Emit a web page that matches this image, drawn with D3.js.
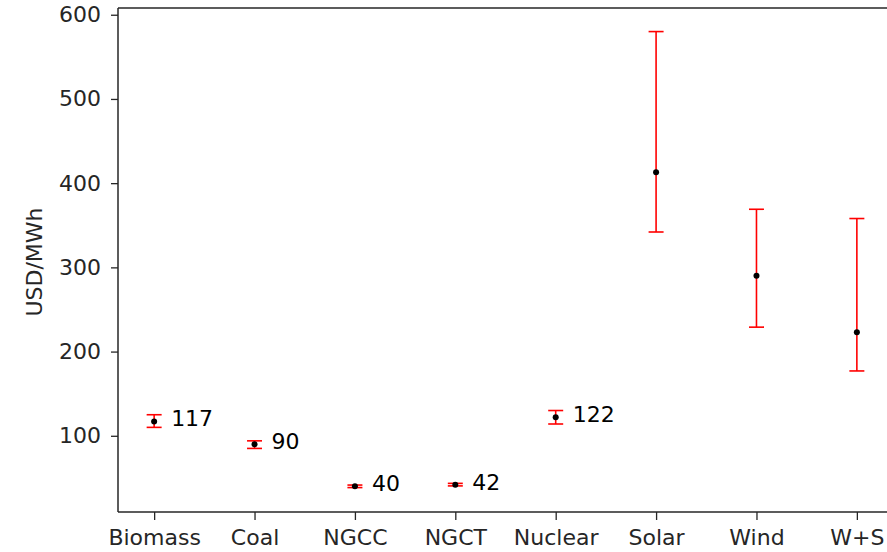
<!DOCTYPE html>
<html>
<head>
<meta charset="utf-8">
<script src="https://cdn.jsdelivr.net/npm/d3@7"></script>
<style>
  html, body { margin: 0; padding: 0; background: #fff; overflow: hidden; }
  svg { display: block; }
</style>
</head>
<body>
<svg id="chart" width="887" height="552"></svg>
<script>
const categories = ["Biomass", "Coal", "NGCC", "NGCT", "Nuclear", "Solar", "Wind", "W+S"];
const centers = [117, 90, 40, 42, 122, 413, 290, 223];
const lows    = [110, 85, 38.5, 40.5, 114, 342, 229, 177];
const highs   = [125, 94, 41.5, 43.5, 130, 580, 369, 358];
const pointLabels = ["117", "90", "40", "42", "122", null, null, null];
const yTicks = [100, 200, 300, 400, 500, 600];
const yTitle = "USD/MWh";

const svg = d3.select("#chart");
const mLeft = 118, mTop = 8, mBottom = 512, mRight = 892;
const font = "DejaVu Sans, Verdana, sans-serif";
const axisColor = "#262626";
const fs = "22px";

const x = d3.scaleLinear().domain([-0.36, 7.35]).range([mLeft, mRight]);
const y = d3.scaleLinear().domain([9.5, 608]).range([mBottom, mTop]);

// Axes
const yAxis = svg.append("g")
  .attr("transform", `translate(${mLeft},0)`)
  .call(d3.axisLeft(y).tickValues(yTicks).tickSize(7).tickPadding(10));
const xAxis = svg.append("g")
  .attr("transform", `translate(0,${mBottom})`)
  .call(d3.axisBottom(x).tickValues(d3.range(categories.length))
        .tickFormat(i => categories[i]).tickSize(8).tickPadding(8));

[yAxis, xAxis].forEach(g => {
  g.select(".domain").remove();
  g.selectAll(".tick line").attr("stroke", axisColor).attr("stroke-width", 1.3);
  g.selectAll(".tick text").attr("fill", axisColor)
    .style("font-family", font).style("font-size", fs);
});
xAxis.selectAll(".tick text").attr("dy", "0.78em");

// Spines (right one falls beyond the canvas)
const spines = [
  [mLeft, mTop, mLeft, mBottom],
  [mLeft, mBottom, mRight, mBottom],
  [mLeft, mTop, mRight, mTop],
  [mRight, mTop, mRight, mBottom]
];
svg.append("g").selectAll("line").data(spines).join("line")
  .attr("x1", d => d[0]).attr("y1", d => d[1]).attr("x2", d => d[2]).attr("y2", d => d[3])
  .attr("stroke", axisColor).attr("stroke-width", 1.5);

// Y title
svg.append("text")
  .attr("transform", `translate(42,${(mTop + mBottom) / 2 + 2}) rotate(-90)`)
  .attr("text-anchor", "middle")
  .attr("fill", axisColor)
  .style("font-family", font).style("font-size", fs)
  .text(yTitle);

// Error bars
const idx = d3.range(categories.length);
const capW = 7.5;
const eb = svg.append("g").attr("stroke", "#ff0000").attr("stroke-width", 1.6);
eb.selectAll(".v").data(idx).join("line").attr("class", "v")
  .attr("x1", i => x(i)).attr("x2", i => x(i))
  .attr("y1", i => y(lows[i])).attr("y2", i => y(highs[i]));
eb.selectAll(".t").data(idx).join("line").attr("class", "t")
  .attr("x1", i => x(i) - capW).attr("x2", i => x(i) + capW)
  .attr("y1", i => y(highs[i])).attr("y2", i => y(highs[i]));
eb.selectAll(".b").data(idx).join("line").attr("class", "b")
  .attr("x1", i => x(i) - capW).attr("x2", i => x(i) + capW)
  .attr("y1", i => y(lows[i])).attr("y2", i => y(lows[i]));

// Points
svg.append("g").selectAll("circle").data(idx).join("circle")
  .attr("cx", i => x(i)).attr("cy", i => y(centers[i]))
  .attr("r", 3).attr("fill", "#000");

// Value labels
svg.append("g").selectAll("text").data(idx.filter(i => pointLabels[i] !== null)).join("text")
  .attr("x", i => x(i) + 17)
  .attr("y", i => y(centers[i]) - 1)
  .attr("dominant-baseline", "middle")
  .attr("fill", "#000")
  .style("font-family", font).style("font-size", fs)
  .text(i => pointLabels[i]);
</script>
</body>
</html>
